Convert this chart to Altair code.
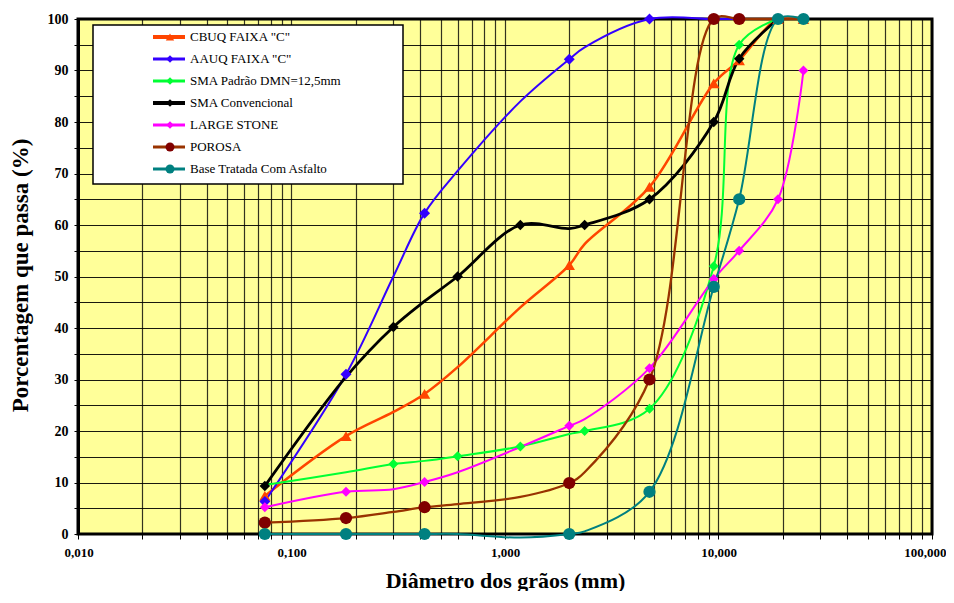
import altair as alt
import pandas as pd

# ---------------- data ----------------
sieves = [0.075, 0.18, 0.3, 0.42, 0.6, 1.18, 2.0, 2.36, 4.75, 9.5, 12.5, 19.0, 25.0]

names = ['CBUQ FAIXA "C"', 'AAUQ FAIXA "C"', 'SMA Padrão DMN=12,5mm',
         'SMA Convencional', 'LARGE STONE', 'POROSA', 'Base Tratada Com Asfalto']

cbuq = [7.4, 19.0, 23.7, 27.2, 32.4, 44.0, 52.2, 56.3, 67.4, 87.5, 92.0, 100, 100]
aauq = [6.3, 31.0, 50.0, 62.3, 70.5, 84.0, 92.2, 94.5, 100, 100, 100, 100, 100]
sma_padrao = [9.5, 12.0, 13.6, 14.2, 15.1, 17.0, 19.4, 20.0, 24.3, 52.0, 95.0, 100, None]
sma_conv = [9.3, 30.5, 40.2, 45.2, 50.0, 60.0, 59.3, 60.0, 65.0, 80.0, 92.3, 100, None]
large_stone = [5.2, 8.2, 8.7, 10.1, 12.0, 16.9, 21.0, 22.3, 32.2, 49.5, 55.0, 65.0, 90.0]
porosa = [2.2, 3.1, 4.3, 5.2, 5.8, 7.2, 9.9, 12.0, 30.0, 100, 100, 100, 100]
base_tratada = [0, 0, 0, 0, 0, -0.7, 0, 0.5, 8.2, 48.0, 65.0, 100, 100]

# sieves at which each series shows a marker
cbuq_marks = [0.075, 0.18, 0.42, 2.0, 4.75, 9.5, 12.5, 19.0, 25.0]
aauq_marks = [0.075, 0.18, 0.42, 2.0, 4.75]
sma_padrao_marks = [0.3, 0.6, 1.18, 2.36, 4.75, 9.5, 12.5, 19.0]
sma_conv_marks = [0.075, 0.3, 0.6, 1.18, 2.36, 4.75, 9.5, 12.5, 19.0]
large_stone_marks = [0.075, 0.18, 0.42, 2.0, 4.75, 9.5, 12.5, 19.0, 25.0]
porosa_marks = [0.075, 0.18, 0.42, 2.0, 4.75, 9.5, 12.5]
base_tratada_marks = [0.075, 0.18, 0.42, 2.0, 4.75, 9.5, 12.5, 19.0, 25.0]

# ---------------- styles ----------------
series_values = [cbuq, aauq, sma_padrao, sma_conv, large_stone, porosa, base_tratada]
series_marks = [cbuq_marks, aauq_marks, sma_padrao_marks, sma_conv_marks,
                large_stone_marks, porosa_marks, base_tratada_marks]
line_colors = ['#FF4500', '#3300FF', '#00FF33', '#000000', '#FF00FF', '#993300', '#008080']
mark_colors = ['#FF4500', '#3300FF', '#00FF33', '#000000', '#FF00FF', '#800000', '#008080']
shapes = ['triangle-up', 'diamond', 'diamond', 'diamond', 'diamond', 'circle', 'circle']
mark_sizes = [130, 120, 100, 110, 100, 150, 150]
line_widths = [2.5, 2, 2, 2.8, 2, 2.3, 2]
leg_line_widths = [4, 3, 3, 4, 3, 3, 3]
leg_sizes = [70, 55, 55, 60, 55, 80, 80]

FONT = 'Liberation Serif'

grid_vals = []
for e in range(-2, 2):
    for k in range(1, 10):
        grid_vals.append(round(k * 10 ** e, 6))
grid_vals.append(100)

x_enc = alt.X('d:Q',
              scale=alt.Scale(type='log', domain=[0.01, 100], nice=False),
              axis=alt.Axis(values=grid_vals,
                            labelExpr="abs(log(datum.value)/LN10 - round(log(datum.value)/LN10)) < 1e-6 ? replace(format(datum.value, '.3f'), '.', ',') : ''",
                            labelFont=FONT, labelFontWeight='bold', labelFontSize=13,
                            labelColor='black', labelPadding=7, labelOverlap=False,
                            labelFlush=True, labelFlushOffset=14,
                            tickSize=5, tickColor='black',
                            grid=True, gridColor='black', gridOpacity=0.8, gridWidth=1.2,
                            domain=False,
                            title='Diâmetro dos grãos (mm)', titleFont=FONT,
                            titleFontSize=22, titleFontWeight='bold', titleColor='black',
                            titleBaseline='alphabetic', titleY=53))
y_enc = alt.Y('p:Q',
              scale=alt.Scale(domain=[0, 100], nice=False, zero=False),
              axis=alt.Axis(values=list(range(0, 101, 5)),
                            labelExpr="datum.value % 10 == 0 ? datum.value : ''",
                            labelFont=FONT, labelFontWeight='bold', labelFontSize=14,
                            labelColor='black', labelPadding=6, labelOverlap=False,
                            labelFlush=False, tickSize=4, tickColor='black',
                            grid=True, gridColor='black', gridOpacity=0.9, gridWidth=1.2,
                            domain=True, domainColor='black', domainWidth=3,
                            title='Porcentagem que passa (%)', titleFont=FONT,
                            titleFontSize=23, titleFontWeight='bold', titleColor='black',
                            titleAngle=-90, titleBaseline='bottom', titleX=-46, titleY=256))

line_layers = []
point_layers = []
for i, name in enumerate(names):
    rows = []
    for s, v in zip(sieves, series_values[i]):
        if v is None:
            continue
        rows.append({'d': s, 'p': v, 'mk': s in series_marks[i]})
    df = pd.DataFrame(rows)
    line_layers.append(
        alt.Chart(df).mark_line(interpolate='catmull-rom', color=line_colors[i],
                                strokeWidth=line_widths[i])
        .encode(x=x_enc, y=y_enc, order=alt.Order('d:Q'))
    )
    point_layers.append(
        alt.Chart(df[df['mk']]).mark_point(filled=True, opacity=1, shape=shapes[i],
                                           size=mark_sizes[i], color=mark_colors[i])
        .encode(x=x_enc, y=y_enc)
    )

# ---------------- legend (manual) ----------------
one = pd.DataFrame({'a': [0]})
legend_layers = [
    alt.Chart(one).mark_rect(fill='white', stroke='black', strokeWidth=1.5)
    .encode(x=alt.value(15), x2=alt.value(325), y=alt.value(6), y2=alt.value(165))
]
for i, name in enumerate(names):
    ly = 18 + 22 * i
    legend_layers.append(
        alt.Chart(one).mark_rule(color=line_colors[i], strokeWidth=leg_line_widths[i])
        .encode(x=alt.value(75), x2=alt.value(107), y=alt.value(ly))
    )
    legend_layers.append(
        alt.Chart(one).mark_point(filled=True, opacity=1, shape=shapes[i],
                                  size=leg_sizes[i], color=mark_colors[i])
        .encode(x=alt.value(92), y=alt.value(ly))
    )
    legend_layers.append(
        alt.Chart(one).mark_text(text=name, align='left', baseline='middle',
                                 font=FONT, fontSize=13, color='black')
        .encode(x=alt.value(112), y=alt.value(ly))
    )

chart = alt.layer(*line_layers, *point_layers, *legend_layers).properties(
    width=854, height=515, autosize='none',
    padding={'left': 70, 'top': 11, 'right': 14, 'bottom': 57}
).configure_view(fill='#FFFF99', stroke='black', strokeWidth=3)

chart.save('out.html', embed_options={'renderer': 'svg', 'actions': False})
